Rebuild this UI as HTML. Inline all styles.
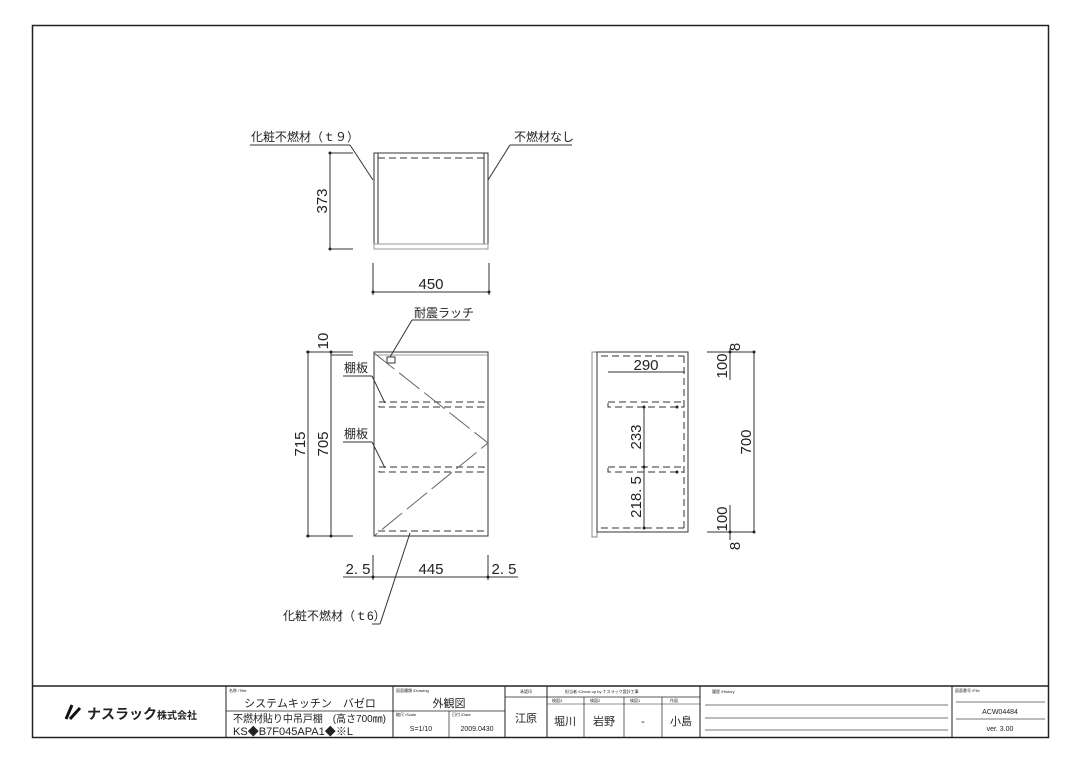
<!DOCTYPE html>
<html><head><meta charset="utf-8"><style>
html,body{margin:0;padding:0;background:#fff;}
svg{display:block;}
text{font-family:"Liberation Sans","Noto Sans CJK JP",sans-serif;fill:#222;}
</style></head><body>
<svg width="1080" height="763" viewBox="0 0 1080 763" xmlns="http://www.w3.org/2000/svg">
<rect x="32.5" y="25.5" width="1016" height="712" fill="none" stroke="#222" stroke-width="1.5"/>
<g stroke="#333" stroke-width="1" fill="none">
<!-- TOP VIEW -->
<rect x="374" y="153" width="114" height="91"/>
<line x1="378" y1="153" x2="378" y2="244"/><line x1="484" y1="153" x2="484" y2="244"/>
<rect x="374" y="244" width="114" height="5" stroke="#999"/>
<line x1="378" y1="158" x2="484" y2="158" stroke-dasharray="7,4"/>
<line x1="330" y1="153" x2="330" y2="249"/>
<line x1="330" y1="153" x2="353" y2="153"/><line x1="330" y1="249" x2="353" y2="249"/>
<line x1="373" y1="263" x2="373" y2="295"/><line x1="489" y1="263" x2="489" y2="295"/>
<line x1="373" y1="292" x2="489" y2="292"/>
<line x1="250" y1="145" x2="350" y2="145"/><line x1="350" y1="145" x2="373" y2="180"/>
<line x1="510" y1="145" x2="572" y2="145"/><line x1="510" y1="145" x2="488" y2="180"/>
<!-- FRONT VIEW -->
<rect x="374" y="352" width="114" height="184"/>
<line x1="374" y1="355" x2="488" y2="355" stroke="#999"/>
<rect x="387" y="357" width="8" height="6"/>
<rect x="379" y="402" width="105" height="5" stroke-dasharray="7,4"/>
<rect x="379" y="467" width="105" height="5" stroke-dasharray="7,4"/>
<line x1="378" y1="531" x2="484" y2="531" stroke-dasharray="7,4"/>
<polyline points="374,353 488,443 374,536" stroke="#666" stroke-dasharray="26,6"/>
<line x1="308" y1="352" x2="308" y2="536"/><line x1="331" y1="352" x2="331" y2="536"/>
<line x1="306" y1="352" x2="353" y2="352"/><line x1="331" y1="355" x2="353" y2="355"/>
<line x1="306" y1="536" x2="353" y2="536"/>
<line x1="343" y1="577" x2="518" y2="577"/>
<line x1="373" y1="555" x2="373" y2="580"/><line x1="488" y1="555" x2="488" y2="580"/>
<line x1="412" y1="320" x2="470" y2="320"/><line x1="412" y1="320" x2="390" y2="357"/>
<line x1="343" y1="376" x2="372" y2="376"/><line x1="372" y1="376" x2="385" y2="403"/>
<line x1="343" y1="442" x2="372" y2="442"/><line x1="372" y1="442" x2="385" y2="468"/>
<line x1="372" y1="624" x2="380" y2="624"/><line x1="380" y1="624" x2="410" y2="533"/>
<!-- SIDE VIEW -->
<rect x="592" y="352" width="5" height="185" stroke="#888"/>
<rect x="597" y="352" width="91" height="180"/>
<line x1="601" y1="356" x2="684" y2="356" stroke-dasharray="7,4"/>
<line x1="601" y1="528" x2="684" y2="528" stroke-dasharray="7,4"/>
<line x1="684" y1="356" x2="684" y2="528" stroke-dasharray="7,4"/>
<line x1="608" y1="372" x2="685" y2="372"/>
<rect x="608" y="402" width="76" height="5" stroke-dasharray="7,4"/>
<rect x="608" y="467" width="76" height="5" stroke-dasharray="7,4"/>
<line x1="644" y1="407" x2="644" y2="528"/>
<line x1="707" y1="352" x2="754" y2="352"/><line x1="707" y1="532" x2="754" y2="532"/>
<line x1="730" y1="348" x2="730" y2="380"/><line x1="730" y1="505" x2="730" y2="540"/>
<line x1="754" y1="352" x2="754" y2="532"/>
</g>
<g fill="#222">
<circle cx="330" cy="153" r="1.5"/><circle cx="330" cy="249" r="1.5"/>
<circle cx="373" cy="292" r="1.5"/><circle cx="489" cy="292" r="1.5"/>
<circle cx="308" cy="352" r="1.5"/><circle cx="308" cy="536" r="1.5"/>
<circle cx="331" cy="352" r="1.5"/><circle cx="331" cy="536" r="1.5"/>
<circle cx="373" cy="577" r="1.5"/><circle cx="488" cy="577" r="1.5"/>
<circle cx="644" cy="407" r="1.5"/><circle cx="644" cy="467" r="1.5"/><circle cx="644" cy="528" r="1.5"/>
<circle cx="677" cy="407" r="1.5"/><circle cx="677" cy="472" r="1.5"/>
<circle cx="754" cy="352" r="1.5"/><circle cx="754" cy="532" r="1.5"/>
<circle cx="730" cy="352" r="1.5"/><circle cx="730" cy="532" r="1.5"/>
</g>
<g font-size="12">
<text x="251" y="141">化粧不燃材（ｔ９）</text>
<text x="514" y="141">不燃材なし</text>
<text x="414" y="317">耐震ラッチ</text>
<text x="344" y="372">棚板</text>
<text x="344" y="438">棚板</text>
<text x="283" y="620">化粧不燃材（ｔ6）</text>
</g>
<g font-size="15">
<text x="431" y="289" text-anchor="middle">450</text>
<text x="431" y="574" text-anchor="middle">445</text>
<text x="358" y="574" text-anchor="middle">2. 5</text>
<text x="504" y="574" text-anchor="middle">2. 5</text>
<text x="646" y="370" text-anchor="middle">290</text>
<text transform="translate(327,201) rotate(-90)" text-anchor="middle">373</text>
<text transform="translate(328,341) rotate(-90)" text-anchor="middle">10</text>
<text transform="translate(305,444) rotate(-90)" text-anchor="middle">715</text>
<text transform="translate(328,444) rotate(-90)" text-anchor="middle">705</text>
<text transform="translate(641,437) rotate(-90)" text-anchor="middle">233</text>
<text transform="translate(641,497) rotate(-90)" text-anchor="middle">218. 5</text>
<text transform="translate(751,442) rotate(-90)" text-anchor="middle">700</text>
<text transform="translate(727,366) rotate(-90)" text-anchor="middle">100</text>
<text transform="translate(727,519) rotate(-90)" text-anchor="middle">100</text>
<text transform="translate(740,347) rotate(-90)" text-anchor="middle">8</text>
<text transform="translate(740,546) rotate(-90)" text-anchor="middle">8</text>
</g>
<!-- TITLE BLOCK -->
<g stroke="#222" fill="none">
<line x1="32" y1="686" x2="1049" y2="686" stroke-width="1.5"/>
<line x1="226" y1="686" x2="226" y2="737"/>
<line x1="393" y1="686" x2="393" y2="737"/>
<line x1="505" y1="686" x2="505" y2="737"/>
<line x1="547" y1="686" x2="547" y2="737"/>
<line x1="700" y1="686" x2="700" y2="737"/>
<line x1="952" y1="686" x2="952" y2="737"/>
<line x1="226" y1="711" x2="393" y2="711" stroke-width="0.7"/>
<line x1="393" y1="711" x2="505" y2="711" stroke-width="0.7"/>
<line x1="449" y1="711" x2="449" y2="737" stroke-width="0.7"/>
<line x1="505" y1="697" x2="547" y2="697" stroke-width="0.7"/>
<line x1="547" y1="697" x2="700" y2="697" stroke-width="0.7"/>
<line x1="584" y1="697" x2="584" y2="737" stroke-width="0.7"/>
<line x1="624" y1="697" x2="624" y2="737" stroke-width="0.7"/>
<line x1="662" y1="697" x2="662" y2="737" stroke-width="0.7"/>
<line x1="547" y1="704" x2="700" y2="704" stroke-width="0.5"/>
<line x1="705" y1="705" x2="948" y2="705" stroke="#777"/>
<line x1="705" y1="718" x2="948" y2="718" stroke="#777"/>
<line x1="705" y1="730" x2="948" y2="730" stroke="#777"/>
<line x1="956" y1="702" x2="1045" y2="702" stroke="#777"/>
<line x1="956" y1="719" x2="1045" y2="719" stroke="#777"/>
</g>
<g font-size="4" fill="#666">
<text x="229" y="692">名称 /Title</text>
<text x="396" y="692">図面種類 /Drawing</text>
<text x="396" y="716">縮尺 /Scale</text>
<text x="452" y="716">日付 /Date</text>
<text x="520" y="693">承認印</text>
<text x="565" y="693">担当者 /Check up by ナスラック設計工事</text>
<text x="552" y="702">検図3</text><text x="590" y="702">検図2</text><text x="630" y="702">検図1</text><text x="670" y="702">作図</text>
<text x="712" y="693">履歴 /History</text>
<text x="955" y="692">図面番号 /File</text>
</g>
<path d="M66 719 L72 705 M70 719 L80 708" stroke="#111" stroke-width="3" fill="none"/>
<text x="87" y="719" font-size="14" font-weight="bold" textLength="70">ナスラック</text>
<text x="157" y="719" font-size="10" font-weight="bold" textLength="40">株式会社</text>
<text x="310" y="707" font-size="11" text-anchor="middle">システムキッチン　バゼロ</text>
<text x="233" y="722" font-size="10.5" textLength="153" lengthAdjust="spacingAndGlyphs">不燃材貼り中吊戸棚　(高さ700㎜)</text>
<text x="233" y="735" font-size="11" textLength="120" lengthAdjust="spacingAndGlyphs">KS◆B7F045APA1◆※L</text>
<text x="449" y="707" font-size="11" text-anchor="middle">外観図</text>
<text x="421" y="731" font-size="7" text-anchor="middle">S=1/10</text>
<text x="477" y="731" font-size="7" text-anchor="middle">2009.0430</text>
<text x="526" y="722" font-size="11" text-anchor="middle">江原</text>
<text x="565" y="725" font-size="11" text-anchor="middle">堀川</text>
<text x="604" y="725" font-size="11" text-anchor="middle">岩野</text>
<text x="643" y="725" font-size="11" text-anchor="middle">-</text>
<text x="681" y="725" font-size="11" text-anchor="middle">小島</text>
<text x="1000" y="714" font-size="7" text-anchor="middle">ACW04484</text>
<text x="1000" y="731" font-size="7" text-anchor="middle">ver. 3.00</text>
</svg>
</body></html>
